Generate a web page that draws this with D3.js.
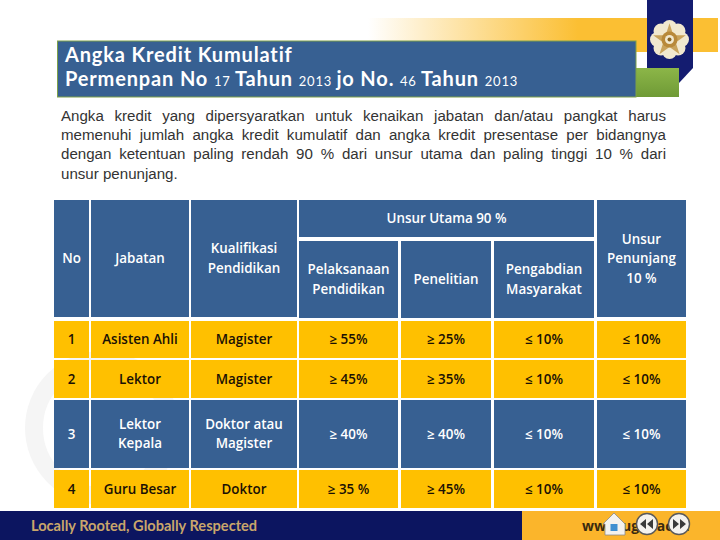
<!DOCTYPE html>
<html>
<head>
<meta charset="utf-8">
<script src="https://cdn.jsdelivr.net/npm/d3@7"></script>
<style>
  html, body { margin: 0; padding: 0; background: #fff; }
  svg { display: block; }
</style>
</head>
<body>
<svg width="720" height="540"></svg>
<script>
// data
const noRows = ["1", "2", "3", "4"];
const jabatan = [["Asisten Ahli"], ["Lektor"], ["Lektor", "Kepala"], ["Guru Besar"]];
const kualifikasi = [["Magister"], ["Magister"], ["Doktor atau", "Magister"], ["Doktor"]];
const pelaksanaan = ["≥ 55%", "≥ 45%", "≥ 40%", "≥ 35 %"];
const penelitian = ["≥ 25%", "≥ 35%", "≥ 40%", "≥ 45%"];
const pengabdian = ["≤ 10%", "≤ 10%", "≤ 10%", "≤ 10%"];
const penunjang = ["≤ 10%", "≤ 10%", "≤ 10%", "≤ 10%"];
const bodyLines = [
  "Angka kredit yang dipersyaratkan untuk kenaikan jabatan dan/atau pangkat harus",
  "memenuhi jumlah angka kredit kumulatif dan angka kredit presentase per bidangnya",
  "dengan ketentuan paling rendah 90 % dari unsur utama dan paling tinggi 10 % dari",
  "unsur penunjang."
];

// layout
const BLUE = "#376092", GOLD = "#ffc000", NAVY = "#0c1560", INK = "#1a1005";
const TABLE_FONT = "'Open Sans', sans-serif";
const colKeys = ["no", "jab", "kua", "pel", "pen", "abd", "unj"];
const colX = d3.scaleOrdinal(colKeys, [54, 91, 191, 299, 401, 494, 597]);
const colW = d3.scaleOrdinal(colKeys, [35, 98, 106, 99, 90, 100, 89]);
const rowY = d3.scaleOrdinal(noRows, [321, 360, 400, 470]);
const rowH = d3.scaleOrdinal(noRows, [37, 38, 68, 38]);

const svg = d3.select("svg");

// background decoration
const defs = svg.append("defs");
const fade = defs.append("linearGradient").attr("id", "fade");
fade.append("stop").attr("offset", 0).attr("stop-color", "#fbbf33").attr("stop-opacity", 0);
fade.append("stop").attr("offset", 0.6).attr("stop-color", "#fbbf33");
const green = defs.append("linearGradient").attr("id", "green").attr("x2", 0).attr("y2", 1);
green.append("stop").attr("offset", 0).attr("stop-color", "#8cb648");
green.append("stop").attr("offset", 1).attr("stop-color", "#6f9a36");

svg.append("circle").attr("cx", 102).attr("cy", 428)
  .attr("r", 68).attr("fill", "none").attr("stroke", "#f5f5f5").attr("stroke-width", 18);

svg.append("rect").attr("x", 368).attr("y", 18).attr("width", 350).attr("height", 34).attr("fill", "url(#fade)");
svg.append("path").attr("d", "M647 0H693V68L679 83H647Z").attr("fill", "#141c70");

// emblem
const emblem = svg.append("g").attr("transform", "translate(669.5,39.5)");
d3.range(8).forEach(i => {
  const a = i * Math.PI / 4;
  emblem.append("circle").attr("cx", 12 * Math.cos(a)).attr("cy", 12 * Math.sin(a))
    .attr("r", 7.5).attr("fill", "#f1e8cf");
});
emblem.append("path").attr("d", d3.symbol(d3.symbolStar, 330)()).attr("fill", "#c9a35c").attr("transform", "translate(0,1)");
emblem.append("circle").attr("r", 8).attr("fill", "#b8893a");
emblem.append("circle").attr("r", 4.5).attr("fill", "#f1e8cf");
emblem.append("circle").attr("r", 2).attr("fill", "#8a6420");

// title box
svg.append("rect").attr("x", 636).attr("y", 68).attr("width", 43).attr("height", 29).attr("fill", "url(#green)");
svg.append("rect").attr("x", 57.5).attr("y", 41).attr("width", 578.5).attr("height", 56)
  .attr("fill", BLUE).attr("stroke", "#7ea04a").attr("stroke-width", 1);

const titleFont = "Lato, sans-serif";
function titleLine(y, parts) {
  const t = svg.append("text").attr("x", 65).attr("y", y)
    .attr("font-family", titleFont).attr("fill", "#fff")
    .style("letter-spacing", "0.85px").style("white-space", "pre");
  parts.forEach(p => t.append("tspan").attr("font-size", p[1]).attr("font-weight", p[1] < 15 ? 400 : 700).text(p[0]));
}
titleLine(62, [["Angka Kredit Kumulatif", 20]]);
titleLine(86, [["Permenpan No ", 20], ["17 ", 13], ["Tahun ", 20], ["2013 ", 13], ["jo No. ", 20], ["46 ", 13], ["Tahun ", 20], ["2013", 13]]);

// justified paragraph
svg.selectAll("text.body").data(bodyLines).join("text")
  .attr("class", "body")
  .attr("x", 61)
  .attr("y", (d, i) => [121, 140, 159, 179][i])
  .attr("font-family", "'Liberation Sans', Arial, sans-serif")
  .attr("font-size", 15.1)
  .attr("fill", "#333")
  .text(d => d)
  .each(function (d, i) {
    if (i === bodyLines.length - 1) return;
    const gaps = d.split(" ").length - 1;
    const extra = (605 - this.getComputedTextLength()) / gaps;
    d3.select(this).style("word-spacing", extra + "px");
  });

// table
function cell(x, y, w, h, fill, lines, color) {
  svg.append("rect").attr("x", x).attr("y", y).attr("width", w).attr("height", h).attr("fill", fill);
  const lh = 19.5;
  const y0 = y + h / 2 - (lines.length - 1) * lh / 2 + 4.7;
  svg.append("g").selectAll("text").data(lines).join("text")
    .attr("x", x + w / 2)
    .attr("y", (d, i) => y0 + i * lh)
    .attr("text-anchor", "middle")
    .attr("font-family", TABLE_FONT)
    .attr("font-size", 13.4)
    .attr("font-weight", color === INK ? 600 : 600)
    .attr("fill", color)
    .text(d => d);
}

const headTop = 200, headBottom = 317;
cell(colX("no"), headTop, colW("no"), headBottom - headTop, BLUE, ["No"], "#fff");
cell(colX("jab"), headTop, colW("jab"), headBottom - headTop, BLUE, ["Jabatan"], "#fff");
cell(colX("kua"), headTop, colW("kua"), headBottom - headTop, BLUE, ["Kualifikasi", "Pendidikan"], "#fff");
cell(colX("pel"), headTop, colX("abd") + colW("abd") - colX("pel"), 37, BLUE, ["Unsur Utama 90 %"], "#fff");
cell(colX("pel"), 241, colW("pel"), 77, BLUE, ["Pelaksanaan", "Pendidikan"], "#fff");
cell(colX("pen"), 241, colW("pen"), 77, BLUE, ["Penelitian"], "#fff");
cell(colX("abd"), 241, colW("abd"), 77, BLUE, ["Pengabdian", "Masyarakat"], "#fff");
cell(colX("unj"), headTop, colW("unj"), headBottom - headTop, BLUE, ["Unsur", "Penunjang", "10 %"], "#fff");

noRows.forEach((no, i) => {
  const fill = no === "3" ? BLUE : GOLD;
  const ink = no === "3" ? "#fff" : INK;
  const vals = [[no], jabatan[i], kualifikasi[i], [pelaksanaan[i]], [penelitian[i]], [pengabdian[i]], [penunjang[i]]];
  colKeys.forEach((k, j) => cell(colX(k), rowY(no), colW(k), rowH(no), fill, vals[j], ink));
});

// footer
svg.append("rect").attr("x", 0).attr("y", 511).attr("width", 522).attr("height", 29).attr("fill", NAVY);
svg.append("rect").attr("x", 522).attr("y", 511).attr("width", 198).attr("height", 29).attr("fill", "#fbb52b");
svg.append("text").attr("x", 31).attr("y", 531)
  .attr("font-family", "Lato, sans-serif").attr("font-size", 14.6).attr("font-weight", 700)
  .attr("fill", "#c9a66b").text("Locally Rooted, Globally Respected");
svg.append("text").attr("x", 582).attr("y", 531)
  .attr("font-family", TABLE_FONT).attr("font-size", 14).attr("font-weight", 700)
  .attr("fill", "#3a2a10").text("www.ugm.ac.id");

// nav buttons
const home = svg.append("g").attr("transform", "translate(614,525)");
home.append("path").attr("d", "M-11 -1L0 -12L11 -1V10H-9V-1Z").attr("fill", "#f4f2ee").attr("stroke", "#8a8a8a").attr("stroke-width", 0.8);
home.append("rect").attr("x", -3.5).attr("y", -1).attr("width", 7).attr("height", 7).attr("fill", "#3f8fd0");

[[647, "M-1 -5L-7 0L-1 5Z M6 -5L0 0L6 5Z"], [679, "M1 -5L7 0L1 5Z M-6 -5L0 0L-6 5Z"]].forEach(b => {
  const g = svg.append("g").attr("transform", `translate(${b[0]},524)`);
  g.append("circle").attr("r", 10.5).attr("fill", "#f4f2ee").attr("stroke", "#5a5a5a").attr("stroke-width", 1.4);
  g.append("path").attr("d", b[1]).attr("fill", "#3a3a3a");
});
</script>
</body>
</html>
